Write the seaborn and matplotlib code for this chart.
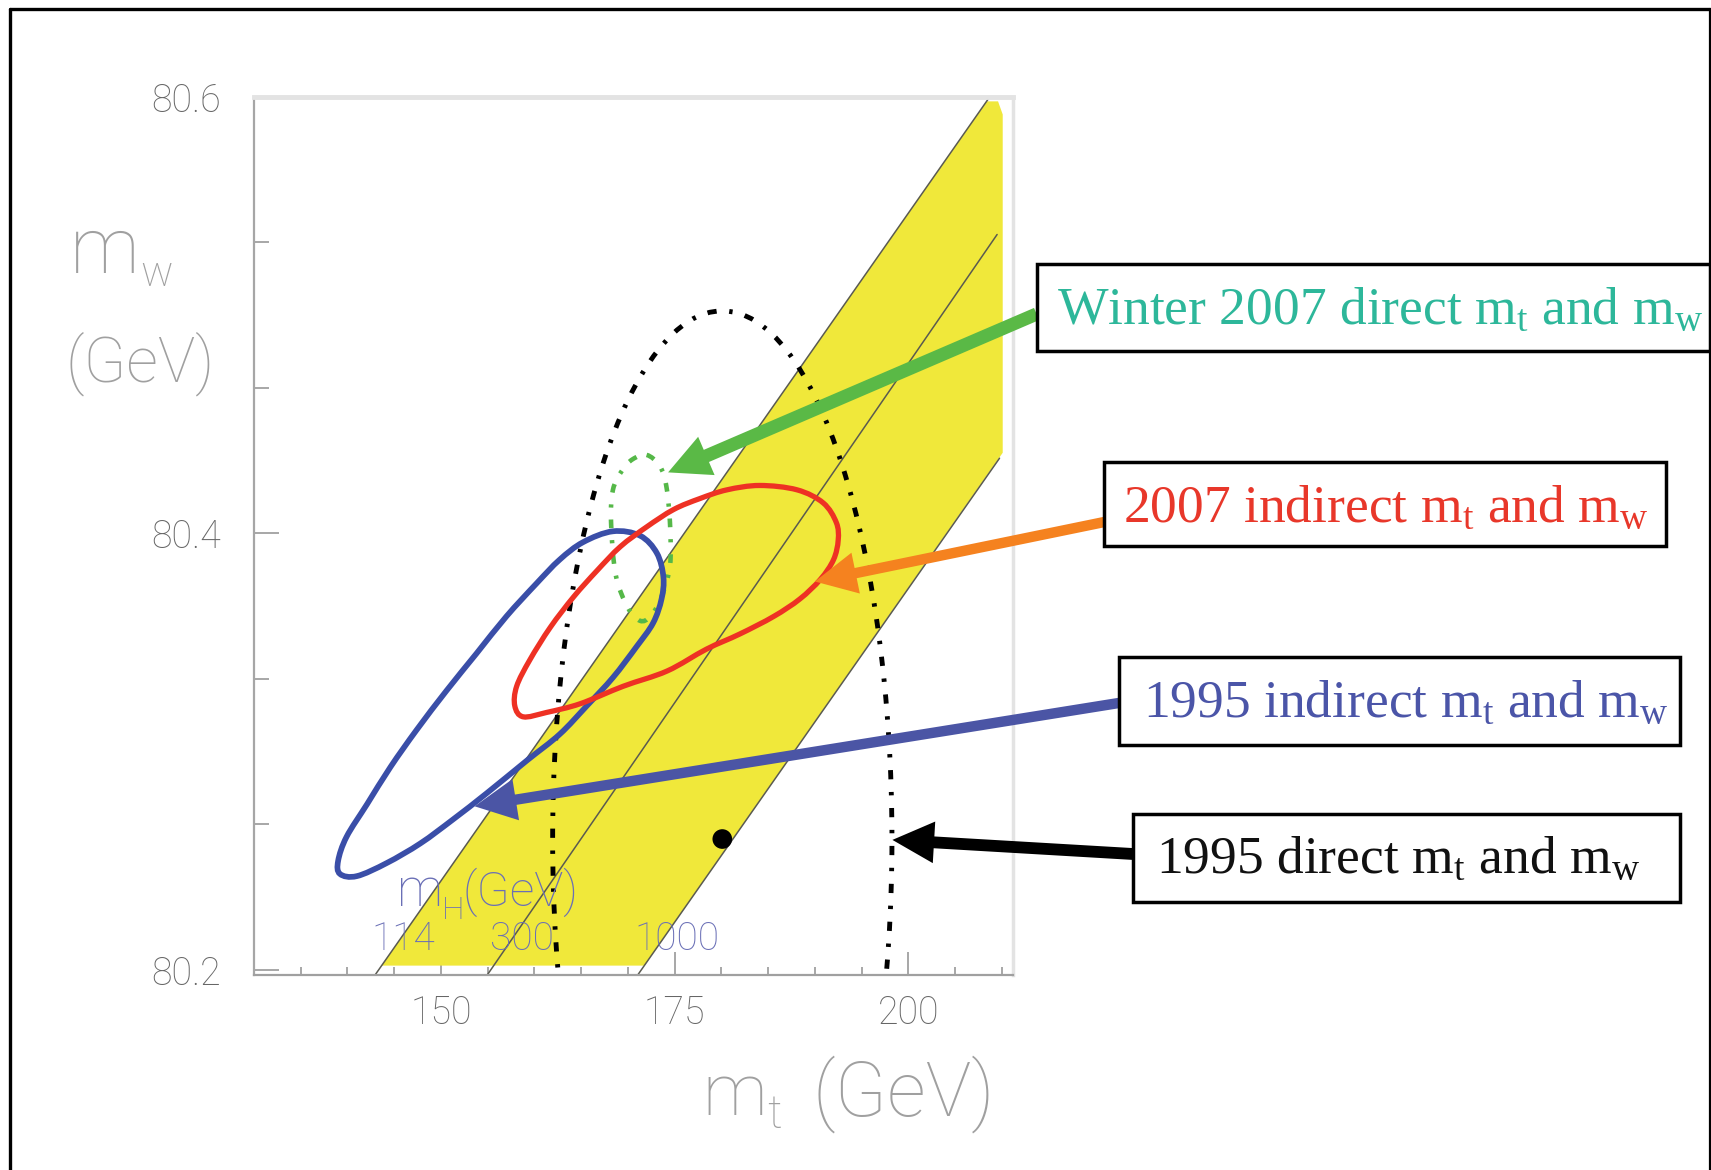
import numpy as np
import pandas as pd
import matplotlib
matplotlib.use("Agg")
import matplotlib.pyplot as plt
import seaborn as sns
from matplotlib.patches import Ellipse, PathPatch, Rectangle
from matplotlib.path import Path
from matplotlib.lines import Line2D

# ---------------- data ----------------
# Standard-model band (m_H from 114 to 1000 GeV), outline in (m_t, m_W)
band_mt = [143.65, 171.75, 210.1, 210.1, 209.6, 208.4]
band_mw = [80.202, 80.202, 80.437, 80.592, 80.598, 80.598]

# Iso-m_H lines: end points
mh_values = ["114", "300", "1000"]
mh_mt_start = [143.0, 155.0, 171.1]
mh_mw_start = [80.198, 80.198, 80.198]
mh_mt_end = [208.7, 209.5, 209.76]
mh_mw_end = [80.600, 80.537, 80.4345]

# 1995 direct measurement (centre and contour half-widths)
direct95_mt, direct95_mw = 180.1, 80.26
direct95_dmt, direct95_dmw = 18.15, 0.242

# 1995 indirect contour
ind95_mt = [168.4, 171.3, 173.1, 173.8, 173.6, 172.7, 170.9, 168.4, 165.6, 162.7,
            159.2, 154.9, 151.3, 147.8, 144.2, 141.0, 139.2, 139.0, 139.9, 142.1,
            144.6, 147.4, 150.6, 153.8, 157.0, 160.2, 162.7, 165.2]
ind95_mw = [80.401, 80.399, 80.391, 80.380, 80.370, 80.359, 80.348, 80.334, 80.321, 80.308,
            80.296, 80.281, 80.269, 80.258, 80.249, 80.243, 80.244, 80.250, 80.261, 80.276,
            80.293, 80.310, 80.328, 80.345, 80.362, 80.377, 80.388, 80.396]

# 2007 indirect contour
ind07_mt = [184.1, 188.1, 190.9, 192.3, 192.5, 192.0, 190.6, 188.4, 185.6, 182.0,
            178.4, 174.2, 169.5, 164.9, 161.3, 158.8, 157.9, 158.1, 159.5, 161.7,
            164.2, 166.7, 169.2, 172.0, 174.9, 177.7, 180.6]
ind07_mw = [80.422, 80.420, 80.414, 80.405, 80.397, 80.388, 80.379, 80.370, 80.362, 80.354,
            80.347, 80.337, 80.330, 80.322, 80.318, 80.316, 80.321, 80.330, 80.342, 80.357,
            80.371, 80.383, 80.394, 80.403, 80.411, 80.416, 80.420]

# Winter 2007 direct contour
dir07_mt = [172.0, 173.4, 174.1, 174.5, 174.5, 173.5, 172.4, 171.3, 170.0, 168.7,
            168.2, 168.4, 169.4, 170.5]
dir07_mw = [80.436, 80.431, 80.422, 80.405, 80.385, 80.370, 80.362, 80.360, 80.366, 80.381,
            80.405, 80.420, 80.429, 80.434]

# Points the annotation arrows refer to
arrow_tip_mt = [174.3, 190.0, 153.6, 198.3]
arrow_tip_mw = [80.428, 80.378, 80.275, 80.2596]

labels = ["Winter 2007 direct $\\mathrm{m}_\\mathrm{t}$ and $\\mathrm{m}_\\mathrm{w}$",
          "2007 indirect $\\mathrm{m}_\\mathrm{t}$ and $\\mathrm{m}_\\mathrm{w}$",
          "1995 indirect $\\mathrm{m}_\\mathrm{t}$ and $\\mathrm{m}_\\mathrm{w}$",
          "1995 direct $\\mathrm{m}_\\mathrm{t}$ and $\\mathrm{m}_\\mathrm{w}$"]

x_major = [150, 175, 200]
y_major = [80.2, 80.4, 80.6]

# ---------------- style ----------------
sns.set_theme(style="white")
plt.rcParams["font.family"] = ["Roboto", "DejaVu Sans"]
plt.rcParams["mathtext.fontset"] = "custom"
plt.rcParams["mathtext.rm"] = "Liberation Serif"
plt.rcParams["mathtext.it"] = "Liberation Serif:italic"

W, H = 1711, 1170
fig = plt.figure(figsize=(W / 100, H / 100), dpi=100)
fig.patch.set_facecolor("white")


def fx(px):
    return px / W


def fy(py):
    return 1 - py / H


ax = fig.add_axes([fx(254), fy(975), fx(1013) - fx(254), fy(97) - fy(975)])
ax.set_facecolor("white")
ax.set_xlim(130, 211.2)
ax.set_ylim(80.1977, 80.6)
ax.set_axisbelow(True)

# spines
ax.spines["left"].set_color("#a6a6a6")
ax.spines["left"].set_linewidth(1.6)
ax.spines["bottom"].set_color("#a0a0a0")
ax.spines["bottom"].set_linewidth(1.6)
ax.spines["top"].set_color("#e3e3e3")
ax.spines["top"].set_linewidth(3.5)
ax.spines["right"].set_color("#e3e3e3")
ax.spines["right"].set_linewidth(2.5)

# ticks
ax.set_xticks(x_major)
ax.set_xticks(np.arange(130, 211, 5), minor=True)
ax.set_yticks(y_major)
ax.set_yticks(np.linspace(80.2, 80.6, 7), minor=True)
ax.set_xticklabels([str(v) for v in x_major])
ax.set_yticklabels([f"{v:.1f}" for v in y_major])
ax.tick_params(axis="both", which="both", bottom=True, left=True, top=False, right=False)
ax.tick_params(axis="x", which="major", direction="in", length=16.5, width=1.3,
               color="#a0a0a0", pad=14, labelsize=27, labelcolor="#666666")
ax.tick_params(axis="x", which="minor", direction="in", length=5.8, width=1.3, color="#a0a0a0")
ax.tick_params(axis="y", which="major", direction="in", length=18, width=1.3,
               color="#a0a0a0", pad=24, labelsize=27, labelcolor="#666666")
ax.tick_params(axis="y", which="minor", direction="in", length=11, width=1.3, color="#a0a0a0")
for lab in ax.get_xticklabels() + ax.get_yticklabels():
    lab.set_fontweight("light")

# SM band
ax.fill(band_mt, band_mw, color="#f0e83a", lw=0, zorder=1)

# iso-m_H lines
for i in range(len(mh_values)):
    sns.lineplot(x=[mh_mt_start[i], mh_mt_end[i]], y=[mh_mw_start[i], mh_mw_end[i]],
                 sort=False, estimator=None, color="#5a5a50", lw=1.1, ax=ax, zorder=2)


def closed_curve(xs, ys):
    P = np.column_stack([xs, ys])
    n = len(P)
    verts = [P[0]]
    codes = [Path.MOVETO]
    for i in range(n):
        p0, p1, p2, p3 = P[i - 1], P[i], P[(i + 1) % n], P[(i + 2) % n]
        verts += [p1 + (p2 - p0) / 6, p2 - (p3 - p1) / 6, p2]
        codes += [Path.CURVE4] * 3
    verts.append(P[0])
    codes.append(Path.CLOSEPOLY)
    return Path(verts, codes)


dashdot = (0, (1.9, 2.6, 0.7, 2.6))

# 1995 direct
ax.add_patch(Ellipse((direct95_mt, direct95_mw), 2 * direct95_dmt, 2 * direct95_dmw,
                     fill=False, ec="black", lw=3.5, ls=dashdot, zorder=3))
# Winter 2007 direct
ax.add_patch(PathPatch(closed_curve(dir07_mt, dir07_mw), fill=False, ec="#55b848",
                       lw=3.3, ls=dashdot, zorder=3))
# 1995 indirect
ax.add_patch(PathPatch(closed_curve(ind95_mt, ind95_mw), fill=False, ec="#3a4ea8",
                       lw=4.1, zorder=4))
# 2007 indirect
ax.add_patch(PathPatch(closed_curve(ind07_mt, ind07_mw), fill=False, ec="#ee3124",
                       lw=3.8, zorder=4.5))

sns.scatterplot(x=[direct95_mt], y=[direct95_mw], s=200, color="black",
                edgecolor="none", ax=ax, zorder=5)
ax.set_xlabel("")
ax.set_ylabel("")

# m_H labels
mh_col = "#6a6fb6"
fig.text(fx(397), fy(906), "m", fontsize=37, fontweight="light", color=mh_col,
         ha="left", va="baseline")
fig.text(fx(442), fy(919), "H", fontsize=23, fontweight="light", color=mh_col,
         ha="left", va="baseline")
fig.text(fx(462), fy(906), "(GeV)", fontsize=35, fontweight="light", color=mh_col,
         ha="left", va="baseline")
for lab, xl in zip(mh_values, [371, 490, 634]):
    fig.text(fx(xl), fy(950), lab, fontsize=28, fontweight="light", color=mh_col,
             ha="left", va="baseline")

# axis titles
gcol = "#a0a0a0"
fig.text(fx(70), fy(273), "m", fontsize=56, fontweight="light", color=gcol,
         ha="left", va="baseline")
fig.text(fx(140), fy(286), "w", fontsize=31, fontweight="light", color=gcol,
         ha="left", va="baseline")
fig.text(fx(65), fy(382), "(GeV)", fontsize=45, fontweight="light", color=gcol,
         ha="left", va="baseline")
fig.text(fx(702), fy(1115), "m", fontsize=52, fontweight="light", color=gcol,
         ha="left", va="baseline")
fig.text(fx(767), fy(1128), "t", fontsize=33, fontweight="light", color=gcol,
         ha="left", va="baseline")
fig.text(fx(813), fy(1116), "(GeV)", fontsize=55, fontweight="light", color=gcol,
         ha="left", va="baseline")

# annotation boxes
boxes = [(1036.6, 264, 1709.5, 351), (1104.3, 461.7, 1665.8, 546),
         (1118.8, 656.7, 1680.3, 745), (1132.9, 814, 1680.3, 901.7)]
text_pos = [(1056.7, 323.3), (1123.4, 521.7), (1142.9, 716.7), (1156.5, 873.3)]
text_cols = ["#2db79a", "#e8372a", "#4b55a8", "#111111"]
arrow_cols = ["#5ab946", "#f5821f", "#4b55a5", "#000000"]
tails = [(1036.6, 314), (1104.3, 522), (1118.8, 703), (1132.9, 854)]
tail_w = [9.5, 7.5, 7.5, 8.5]

for i in range(4):
    x0, y0, x1, y1 = boxes[i]
    fig.patches.append(Rectangle((fx(x0), fy(y1)), fx(x1) - fx(x0), fy(y0) - fy(y1),
                                 transform=fig.transFigure, fill=True, fc="white",
                                 ec="black", lw=2.5, zorder=3))
    fig.text(fx(text_pos[i][0]), fy(text_pos[i][1]), labels[i], family="Liberation Serif",
             fontsize=38.5, color=text_cols[i], ha="left", va="baseline", zorder=4)
    ax.annotate("", xy=(arrow_tip_mt[i], arrow_tip_mw[i]), xycoords="data",
                xytext=(fx(tails[i][0]), fy(tails[i][1])), textcoords="figure fraction",
                annotation_clip=False,
                arrowprops=dict(arrowstyle=f"simple,head_length=30,head_width=30,tail_width={tail_w[i]}",
                                mutation_scale=1, color=arrow_cols[i], lw=0,
                                shrinkA=0, shrinkB=0), zorder=6)

# outer frame
for xs, ys, lw in [([9.5, 9.5], [H, 9], 2.4), ([9.5, 1710], [9, 9], 2.4),
                   ([1710, 1710], [9, H], 1.6)]:
    fig.add_artist(Line2D([fx(v) for v in xs], [fy(v) for v in ys], color="black",
                          lw=lw, transform=fig.transFigure))

fig.savefig("out.png", dpi=100, facecolor="white")
